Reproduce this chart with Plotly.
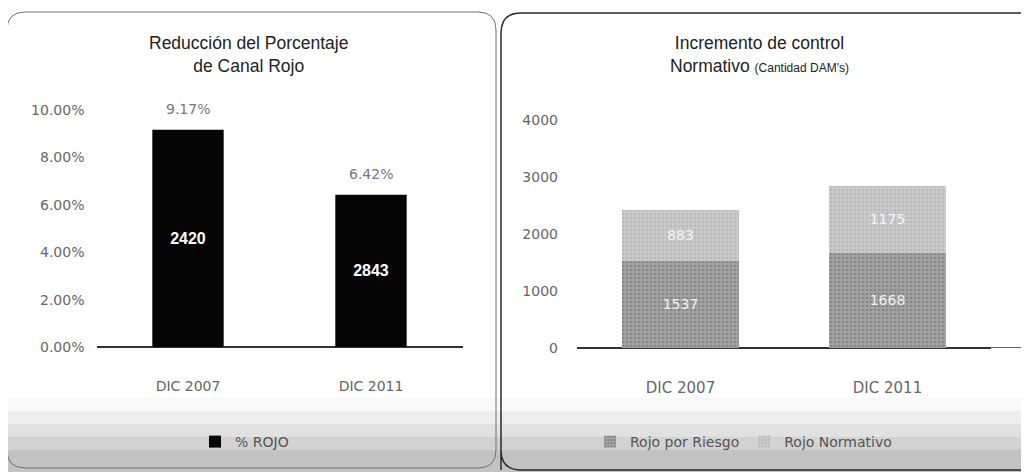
import plotly.graph_objects as go

# ── Data ──────────────────────────────────────────────────────────────────────
periods = ["DIC 2007", "DIC 2011"]
pct_rojo = [9.17, 6.42]
total_dams = [2420, 2843]
rojo_riesgo = [1537, 1668]
rojo_normativo = [883, 1175]

left_ticks = [0, 2, 4, 6, 8, 10]
right_ticks = [0, 1000, 2000, 3000, 4000]

TITLE_FONT = "Liberation Sans, Arial, sans-serif"
TICK_FONT = "DejaVu Sans, Verdana, sans-serif"
TICK_GREY = "#666666"

W, H = 1029, 472
PAGE_OFFSET = 8  # the html body margin pushes the plot 8px right and down


def px_x(p):
    return (p - PAGE_OFFSET) / W


def px_y(p):
    return 1 - (p - PAGE_OFFSET) / H


fig = go.Figure()

# ── Left chart: % rojo ────────────────────────────────────────────────────────
fig.add_trace(go.Bar(
    x=periods, y=pct_rojo, name="% ROJO",
    marker=dict(color="#050505", line=dict(width=0)),
    text=[str(v) for v in total_dams], textposition="inside",
    insidetextanchor="middle",
    textfont=dict(color="white", size=16, family=TITLE_FONT, weight="bold"),
    xaxis="x", yaxis="y", legend="legend", width=0.39,
))

# ── Right chart: stacked DAMs ─────────────────────────────────────────────────
fig.add_trace(go.Bar(
    x=periods, y=rojo_riesgo, name="Rojo por Riesgo",
    marker=dict(color="#a2a2a2", line=dict(width=0),
                pattern=dict(shape=".", fgcolor="#6a6a6a", size=4, solidity=0.35)),
    text=rojo_riesgo, textposition="inside", insidetextanchor="middle",
    textfont=dict(color="#f2f2f2", size=14, family=TICK_FONT),
    xaxis="x2", yaxis="y2", legend="legend2", width=0.565,
))
fig.add_trace(go.Bar(
    x=periods, y=rojo_normativo, name="Rojo Normativo",
    marker=dict(color="#cacaca", line=dict(width=0),
                pattern=dict(shape=".", fgcolor="#a4a4a4", size=4, solidity=0.3)),
    text=rojo_normativo, textposition="inside", insidetextanchor="middle",
    textfont=dict(color="#f6f6f6", size=14, family=TICK_FONT),
    xaxis="x2", yaxis="y2", legend="legend2", width=0.565,
))

# percentage labels above the black bars
annotations = []
for p, v in zip(periods, pct_rojo):
    annotations.append(dict(
        x=p, y=v, xref="x", yref="y", text=f"{v:.2f}%", showarrow=False,
        yanchor="bottom", yshift=11,
        font=dict(size=14, color="#777777", family=TICK_FONT),
    ))

# titles
annotations.append(dict(
    x=px_x(248), y=px_y(55), xref="paper", yref="paper", showarrow=False,
    xanchor="center", yanchor="middle",
    text="Reducción del Porcentaje<br>de Canal Rojo", align="center",
    font=dict(size=17.5, color="#222222", family=TITLE_FONT),
))
annotations.append(dict(
    x=px_x(759), y=px_y(55), xref="paper", yref="paper", showarrow=False,
    xanchor="center", yanchor="middle",
    text="Incremento de control<br>Normativo <span style='font-size:12px'>(Cantidad DAM's)</span>",
    align="center", font=dict(size=17.5, color="#222222", family=TITLE_FONT),
))

# ── Panel frames and shaded bottom ────────────────────────────────────────────
shapes = []
bands = [(398, 0.05), (411, 0.09), (424, 0.13), (437, 0.17), (450, 0.21)]
for top, op in bands:
    shapes.append(dict(
        type="rect", xref="paper", yref="paper",
        x0=0, x1=1, y0=0, y1=px_y(top),
        fillcolor="#8a8a8a", opacity=op, line=dict(width=0), layer="below",
    ))


def frame_path(x0, y0, x1, y1, r):
    pts = [("M", x0, y1), ("L", x0, y0 + r), ("Q", x0, y0), ("", x0 + r, y0),
           ("L", x1 - r, y0), ("Q", x1, y0), ("", x1, y0 + r),
           ("L", x1, y1 - r), ("Q", x1, y1), ("", x1 - r, y1),
           ("L", x0 + r, y1), ("Q", x0, y1), ("", x0, y1 - r)]
    out = []
    for cmd, a, b in pts:
        out.append(f"{cmd} {px_x(a):.5f},{px_y(b):.5f}".strip())
    return " ".join(out) + " Z"


shapes.append(dict(type="path", xref="paper", yref="paper",
                   path=frame_path(7, 12, 496, 468, 18),
                   line=dict(color="#707070", width=1), layer="below"))
shapes.append(dict(type="path", xref="paper", yref="paper",
                   path=frame_path(501, 13, 1050, 470, 20),
                   line=dict(color="#2a2a2a", width=1.5), layer="below"))
# right axis baseline runs on to the panel edge
shapes.append(dict(type="line", xref="paper", yref="y2",
                   x0=px_x(990), x1=1, y0=0, y1=0,
                   line=dict(color="#333333", width=1.5)))

fig.update_layout(
    width=W, height=H,
    margin=dict(l=0, r=0, t=0, b=0, autoexpand=False),
    paper_bgcolor="white", plot_bgcolor="rgba(0,0,0,0)",
    barmode="relative", showlegend=True,
    font=dict(family=TICK_FONT, color=TICK_GREY),
    annotations=annotations, shapes=shapes,
    xaxis=dict(domain=[px_x(96.5), px_x(462.5)], anchor="y",
               showgrid=False, showline=False, ticks="",
               tickfont=dict(size=14, color=TICK_GREY), ticklabelstandoff=29),
    yaxis=dict(domain=[px_y(347), px_y(110)], anchor="x", range=[0, 10],
               tickvals=left_ticks, ticktext=[f"{t:.2f}%" for t in left_ticks],
               showgrid=False, zeroline=True, zerolinecolor="#333333", zerolinewidth=1.5,
               tickfont=dict(size=14, color=TICK_GREY), ticklabelstandoff=11),
    xaxis2=dict(domain=[px_x(577), px_x(991)], anchor="y2",
                showgrid=False, showline=False, ticks="",
                tickfont=dict(size=15, color=TICK_GREY), ticklabelstandoff=29),
    yaxis2=dict(domain=[px_y(348), px_y(120)], anchor="x2", range=[0, 4000],
                tickvals=right_ticks, showgrid=False,
                zeroline=True, zerolinecolor="#333333", zerolinewidth=1.5,
                tickfont=dict(size=14, color=TICK_GREY), ticklabelstandoff=18),
    legend=dict(orientation="h", x=px_x(195), y=px_y(442), xanchor="left",
                yanchor="middle", bgcolor="rgba(0,0,0,0)", itemwidth=30,
                font=dict(size=14, color="#555555")),
    legend2=dict(orientation="h", x=px_x(590), y=px_y(442), xanchor="left",
                 yanchor="middle", bgcolor="rgba(0,0,0,0)", itemwidth=30,
                 font=dict(size=14, color="#555555")),
)

fig.write_html("out.html")
